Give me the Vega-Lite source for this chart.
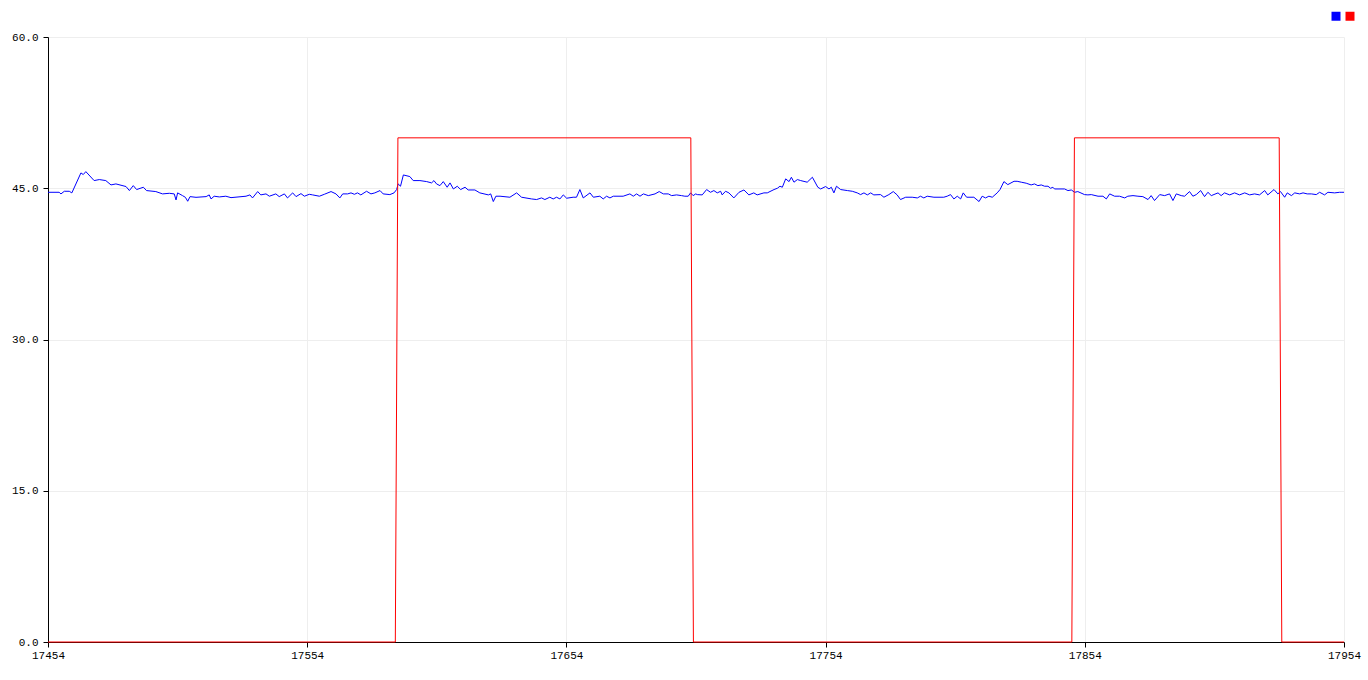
{
  "$schema": "https://vega.github.io/schema/vega-lite/v6.json",
  "width": 1296,
  "height": 605,
  "autosize": {"type": "none"},
  "padding": {"left": 48, "top": 37, "right": 24, "bottom": 38},
  "background": "#ffffff",
  "config": {
    "view": {"stroke": null},
    "axis": {
      "labelFont": "Liberation Mono",
      "labelFontSize": 11,
      "labelColor": "#000000",
      "domainColor": "#000000",
      "domainWidth": 1,
      "tickColor": "#000000",
      "tickWidth": 1,
      "tickSize": 5,
      "gridColor": "#eeeeee",
      "gridWidth": 1,
      "title": null
    }
  },
  "datasets": {
    "blue": [
      {"t":17454,"v":44.6},{"t":17458.3,"v":44.6},{"t":17459,"v":44.44},{"t":17460.3,"v":44.7},{"t":17462.2,"v":44.7},{"t":17463.2,"v":44.54},{"t":17466.7,"v":46.52},{"t":17467.6,"v":46.36},{"t":17468.6,"v":46.65},{"t":17471.8,"v":45.76},{"t":17473.8,"v":45.86},{"t":17476.3,"v":45.76},{"t":17478.3,"v":45.33},{"t":17480.2,"v":45.43},{"t":17484.1,"v":45.17},{"t":17485.4,"v":44.77},{"t":17486.9,"v":45.26},{"t":17488.2,"v":44.87},{"t":17490.8,"v":45.1},{"t":17492,"v":44.77},{"t":17495.6,"v":44.67},{"t":17498.2,"v":44.44},{"t":17500.8,"v":44.5},{"t":17502.7,"v":44.44},{"t":17503.4,"v":43.84},{"t":17504,"v":44.54},{"t":17505.9,"v":44.27},{"t":17507,"v":44.1},{"t":17507.9,"v":43.71},{"t":17508.8,"v":44.17},{"t":17511.1,"v":44.1},{"t":17515,"v":44.17},{"t":17516.2,"v":44.34},{"t":17516.9,"v":43.94},{"t":17518.1,"v":44.21},{"t":17520.1,"v":44.14},{"t":17522.6,"v":44.21},{"t":17524.6,"v":44.07},{"t":17530.4,"v":44.21},{"t":17531.9,"v":44.34},{"t":17532.9,"v":44.04},{"t":17534.9,"v":44.67},{"t":17536.1,"v":44.34},{"t":17538.1,"v":44.44},{"t":17539.4,"v":44.21},{"t":17541.9,"v":44.44},{"t":17543.2,"v":44.17},{"t":17545.2,"v":44.44},{"t":17546.4,"v":44.04},{"t":17548.4,"v":44.54},{"t":17549.7,"v":44.17},{"t":17551.6,"v":44.47},{"t":17552.9,"v":44.21},{"t":17554.8,"v":44.4},{"t":17556.1,"v":44.34},{"t":17558.7,"v":44.21},{"t":17560.6,"v":44.4},{"t":17563.2,"v":44.67},{"t":17565.1,"v":44.44},{"t":17566.6,"v":44.04},{"t":17567.7,"v":44.44},{"t":17569.6,"v":44.44},{"t":17570.9,"v":44.54},{"t":17572.2,"v":44.4},{"t":17573.4,"v":44.54},{"t":17574.7,"v":44.34},{"t":17576.9,"v":44.7},{"t":17578.6,"v":44.44},
      {"t":17580.1,"v":44.54},{"t":17582.1,"v":44.77},{"t":17583.3,"v":44.44},{"t":17585.9,"v":44.37},{"t":17587.5,"v":44.54},{"t":17588.5,"v":44.87},{"t":17589.1,"v":45.43},{"t":17590,"v":45.2},{"t":17591.1,"v":46.32},{"t":17593.6,"v":46.16},{"t":17594.9,"v":45.76},{"t":17597.5,"v":45.76},{"t":17600.1,"v":45.66},{"t":17602,"v":45.53},{"t":17602.9,"v":45.76},{"t":17603.9,"v":45.43},{"t":17605.2,"v":45.26},{"t":17606.5,"v":45.66},{"t":17608,"v":45.1},{"t":17609.1,"v":45.53},{"t":17610.4,"v":44.93},{"t":17611.9,"v":45.2},{"t":17613.2,"v":44.87},{"t":17614.9,"v":45.1},{"t":17616.1,"v":44.83},{"t":17618.7,"v":44.83},{"t":17620.6,"v":44.54},{"t":17623.9,"v":44.34},{"t":17624.8,"v":44.44},{"t":17625.8,"v":43.68},{"t":17626.8,"v":44.21},{"t":17628.4,"v":44.21},{"t":17632.2,"v":44.11},{"t":17634.8,"v":44.54},{"t":17636.7,"v":44.11},{"t":17640.6,"v":43.94},{"t":17642.5,"v":43.88},{"t":17644.4,"v":44.04},{"t":17645.7,"v":43.88},{"t":17647.6,"v":44.11},{"t":17648.9,"v":43.94},{"t":17650.2,"v":44.11},{"t":17651.5,"v":43.94},{"t":17652.8,"v":44.34},{"t":17654.1,"v":44.01},{"t":17656.6,"v":44.11},{"t":17657.9,"v":44.11},{"t":17659.2,"v":44.87},{"t":17660.5,"v":44.04},{"t":17663.1,"v":44.54},{"t":17664.4,"v":44.11},{"t":17666.9,"v":44.21},{"t":17668.2,"v":43.94},{"t":17669.5,"v":44.21},{"t":17670.8,"v":44.04},{"t":17672.1,"v":44.21},{"t":17675.9,"v":44.21},{"t":17678.5,"v":44.44},{"t":17679.8,"v":44.21},{"t":17681.1,"v":44.44},{"t":17682.4,"v":44.21},{"t":17683.7,"v":44.44},{"t":17685.6,"v":44.27},{"t":17688.2,"v":44.44},{"t":17689.8,"v":44.67},{"t":17691.4,"v":44.44},{"t":17693.3,"v":44.44},{"t":17694.6,"v":44.27},{"t":17696.5,"v":44.34},{"t":17698.4,"v":44.27},{"t":17699.7,"v":44.21},{"t":17701,"v":44.21},{"t":17701.9,"v":44.54},{"t":17702.9,"v":44.27},{"t":17703.9,"v":44.44},
      {"t":17704.5,"v":44.37},{"t":17706.4,"v":44.34},{"t":17708.1,"v":44.87},{"t":17709.6,"v":44.6},{"t":17710.9,"v":44.77},{"t":17712.2,"v":44.54},{"t":17713.5,"v":44.7},{"t":17714.1,"v":44.34},{"t":17715.4,"v":44.7},{"t":17716.7,"v":44.54},{"t":17718.6,"v":44.04},{"t":17720.6,"v":44.6},{"t":17722.5,"v":44.83},{"t":17724.4,"v":44.34},{"t":17726.3,"v":44.54},{"t":17727.6,"v":44.34},{"t":17730.2,"v":44.54},{"t":17731.5,"v":44.54},{"t":17734.1,"v":44.87},{"t":17735.4,"v":45.0},{"t":17736.4,"v":45.2},{"t":17737.3,"v":45.1},{"t":17738.6,"v":45.93},{"t":17739.9,"v":45.66},{"t":17740.8,"v":46.09},{"t":17741.8,"v":45.6},{"t":17743.1,"v":45.86},{"t":17744.4,"v":45.76},{"t":17746.9,"v":45.6},{"t":17748.9,"v":46.09},{"t":17751,"v":45.1},{"t":17752.1,"v":44.93},{"t":17754,"v":45.17},{"t":17755.3,"v":44.93},{"t":17756.2,"v":45.1},{"t":17757.2,"v":44.54},{"t":17758.2,"v":45.2},{"t":17759.8,"v":44.87},{"t":17762.4,"v":44.77},{"t":17764.3,"v":44.7},{"t":17766.2,"v":44.54},{"t":17767.5,"v":44.37},{"t":17768.8,"v":44.54},{"t":17770.1,"v":44.34},{"t":17771.4,"v":44.54},{"t":17772.6,"v":44.34},{"t":17775.2,"v":44.37},{"t":17776.5,"v":44.11},{"t":17778.4,"v":44.37},{"t":17780.1,"v":44.67},{"t":17781.6,"v":44.34},{"t":17782.9,"v":43.88},{"t":17784.9,"v":44.11},{"t":17787.4,"v":44.11},{"t":17789.4,"v":44.04},{"t":17790.6,"v":44.21},{"t":17791.9,"v":44.04},{"t":17793.2,"v":44.21},{"t":17795.8,"v":44.11},{"t":17799.6,"v":44.11},{"t":17800.9,"v":44.21},{"t":17802.2,"v":44.37},{"t":17803.5,"v":43.94},{"t":17804.8,"v":44.21},{"t":17806.1,"v":43.94},{"t":17807.1,"v":44.54},{"t":17808.4,"v":44.11},{"t":17811.2,"v":44.11},{"t":17813.2,"v":43.68},{"t":17814.4,"v":44.21},{"t":17815.7,"v":44.04},{"t":17817,"v":44.21},{"t":17818.3,"v":44.11},{"t":17820.2,"v":44.54},{"t":17821.3,"v":44.87},{"t":17822.8,"v":45.66},{"t":17824.3,"v":45.36},{"t":17826.7,"v":45.69},{"t":17827.9,"v":45.69},
      {"t":17829.5,"v":45.6},{"t":17831.4,"v":45.5},{"t":17833.3,"v":45.33},{"t":17834.6,"v":45.43},{"t":17835.9,"v":45.26},{"t":17837.2,"v":45.33},{"t":17838.5,"v":45.2},{"t":17839.8,"v":45.2},{"t":17840.8,"v":45.0},{"t":17841.7,"v":45.1},{"t":17842.3,"v":44.93},{"t":17846.2,"v":44.93},{"t":17847.5,"v":44.77},{"t":17848.8,"v":44.83},{"t":17850.1,"v":44.6},{"t":17851.3,"v":44.67},{"t":17853.9,"v":44.37},{"t":17855.2,"v":44.34},{"t":17856.5,"v":44.37},{"t":17859.1,"v":44.21},{"t":17861,"v":44.21},{"t":17862.3,"v":43.94},{"t":17863.6,"v":44.44},{"t":17865.5,"v":44.21},{"t":17867.4,"v":44.21},{"t":17869.4,"v":44.04},{"t":17870.6,"v":44.21},{"t":17872.6,"v":44.27},{"t":17874.5,"v":44.21},{"t":17876.4,"v":44.17},{"t":17878.4,"v":43.88},{"t":17879.6,"v":44.27},{"t":17880.9,"v":43.78},{"t":17882.9,"v":44.37},{"t":17884.8,"v":44.27},{"t":17886.7,"v":44.44},{"t":17888,"v":43.78},{"t":17889.3,"v":44.44},{"t":17891.2,"v":44.27},{"t":17892.5,"v":44.21},{"t":17894.4,"v":44.67},{"t":17895.7,"v":44.21},{"t":17897,"v":44.37},{"t":17898.7,"v":44.77},{"t":17900.2,"v":44.17},{"t":17901.5,"v":44.6},{"t":17902.8,"v":44.27},{"t":17905.4,"v":44.54},{"t":17906.6,"v":44.27},{"t":17907.9,"v":44.54},{"t":17909.9,"v":44.34},{"t":17911.8,"v":44.54},{"t":17913.7,"v":44.34},{"t":17915.7,"v":44.54},{"t":17917.6,"v":44.34},{"t":17919.5,"v":44.44},{"t":17921.4,"v":44.34},{"t":17923.4,"v":44.77},{"t":17924.6,"v":44.34},{"t":17927,"v":44.87},{"t":17928.5,"v":44.44},{"t":17929.5,"v":44.67},{"t":17931.1,"v":44.11},{"t":17932.1,"v":44.54},{"t":17933.7,"v":44.27},{"t":17935,"v":44.54},{"t":17936.9,"v":44.44},{"t":17938.2,"v":44.54},{"t":17939.8,"v":44.44},{"t":17941.4,"v":44.44},{"t":17943.3,"v":44.37},{"t":17944.6,"v":44.6},{"t":17946.5,"v":44.34},{"t":17947.8,"v":44.6},{"t":17950.4,"v":44.54},{"t":17952.3,"v":44.6},{"t":17953.2,"v":44.6},{"t":17954,"v":44.6}
    ],
    "red": [
      {"t":17454,"v":0},{"t":17588,"v":0},{"t":17589,"v":50},{"t":17702,"v":50},{"t":17703,"v":0},{"t":17849,"v":0},{"t":17850,"v":50},{"t":17929,"v":50},{"t":17930,"v":0},{"t":17954,"v":0}
    ]
  },
  "encoding": {
    "x": {
      "field": "t",
      "type": "quantitative",
      "scale": {"domain": [17454, 17954], "nice": false, "zero": false},
      "axis": {"values": [17454, 17554, 17654, 17754, 17854, 17954], "format": "d", "labelPadding": 2, "labelFlush": false, "labelOverlap": false}
    },
    "y": {
      "field": "v",
      "type": "quantitative",
      "scale": {"domain": [0, 60], "nice": false},
      "axis": {"values": [0, 15, 30, 45, 60], "format": ".1f", "labelPadding": 5}
    },
    "color": {
      "field": "s",
      "type": "nominal",
      "scale": {"domain": ["A", "B"], "range": ["#0000ff", "#ff0000"]},
      "legend": {
        "orient": "none",
        "legendX": 1283,
        "legendY": -26,
        "direction": "horizontal",
        "title": null,
        "symbolType": "square",
        "symbolSize": 81,
        "symbolStrokeWidth": 0,
        "labelExpr": "''",
        "labelFontSize": 0,
        "labelOffset": 0,
        "columnPadding": 4,
        "padding": 0,
        "encode": {"symbols": {"update": {"fill": {"scale": "color", "field": "value"}, "opacity": {"value": 1}}}}
      }
    }
  },
  "layer": [
    {
      "data": {"name": "blue"},
      "transform": [{"calculate": "'A'", "as": "s"}],
      "mark": {"type": "line", "strokeWidth": 1, "interpolate": "linear"}
    },
    {
      "data": {"name": "red"},
      "transform": [{"calculate": "'B'", "as": "s"}],
      "mark": {"type": "line", "strokeWidth": 1, "interpolate": "linear"}
    }
  ]
}
